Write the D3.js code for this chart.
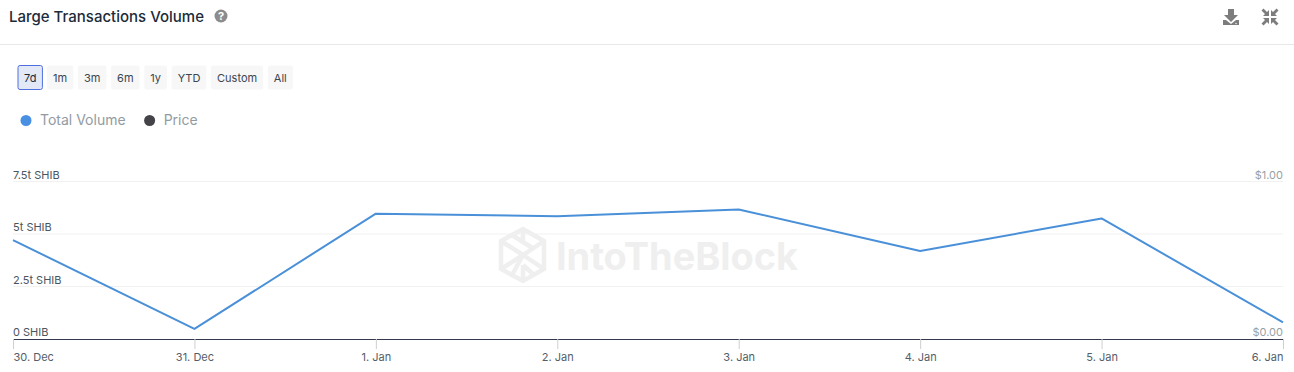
<!DOCTYPE html>
<html>
<head>
<meta charset="utf-8">
<script src="https://cdn.jsdelivr.net/npm/d3@7"></script>
<style>
    html, body { margin: 0; padding: 0; background: #fff; overflow: hidden; }
    text { font-family: Inter, "Noto Sans", sans-serif; }
</style>
</head>
<body>
<div id="chart"></div>
<script>
// data
const dates = ["30. Dec", "31. Dec", "1. Jan", "2. Jan", "3. Jan", "4. Jan", "5. Jan", "6. Jan"];
const totalVolume = [4.71, 0.48, 5.97, 5.85, 6.17, 4.19, 5.74, 0.79]; // trillions of SHIB
const volumeTicks = [0, 2.5, 5, 7.5];
const volumeLabels = ["0 SHIB", "2.5t SHIB", "5t SHIB", "7.5t SHIB"];
const priceTicks = [0, 1];
const priceLabels = ["$0.00", "$1.00"];
const ranges = ["7d", "1m", "3m", "6m", "1y", "YTD", "Custom", "All"];
const legendItems = ["Total Volume", "Price"];
const legendColors = ["#4a90e2", "#434348"];

const width = 1294, height = 372;
const margin = {top: 181.5, right: 11, bottom: 33, left: 13};

const svg = d3.select("#chart").append("svg")
    .attr("width", width)
    .attr("height", height)
    .style("display", "block");

// header
svg.append("text")
    .attr("x", 9).attr("y", 22)
    .attr("font-size", 15).attr("font-weight", 500)
    .attr("fill", "#1c2b3a")
    .text("Large Transactions Volume");

// help icon
const help = svg.append("g").attr("transform", "translate(221,16)");
help.append("circle").attr("r", 6.5).attr("fill", "#8c8c8c");
help.append("text")
    .attr("text-anchor", "middle").attr("y", 4)
    .attr("font-size", 11).attr("font-weight", 700)
    .attr("fill", "#fff")
    .text("?");

// download icon
svg.append("path")
    .attr("d", "M1228 9h6v6h4l-7 7-7-7h4z M1223 20l3 0 5 4 5-4 3 0v5h-16z")
    .attr("fill", "#7d7d7d");
svg.append("circle").attr("cx", 1236).attr("cy", 23.5).attr("r", .7).attr("fill", "#fff");

// collapse icon, one arrow mirrored into each corner
const collapse = svg.append("g").attr("transform", "translate(1270,17)");
[[1, 1], [-1, 1], [1, -1], [-1, -1]].forEach(s => {
    collapse.append("path")
        .attr("d", "M-6.5 -8.5L-8.5 -6.5L-5 -3L-7 -1H-1V-7L-3 -5Z")
        .attr("transform", `scale(${s[0]},${s[1]})`)
        .attr("fill", "#7d7d7d");
});

svg.append("line")
    .attr("x1", 0).attr("x2", width)
    .attr("y1", 44.5).attr("y2", 44.5)
    .attr("stroke", "#e8e8e8");

// range buttons
let btnX = 18;
ranges.forEach((r, i) => {
    let g = svg.append("g");
    let rect = g.append("rect");
    let label = g.append("text")
        .attr("y", 82)
        .attr("font-size", 11)
        .attr("fill", i === 0 ? "#1c2b3a" : "#3a4550")
        .text(r);
    let w = label.node().getComputedTextLength() + 12;
    label.attr("x", btnX + w / 2).attr("text-anchor", "middle");
    rect.attr("x", btnX).attr("y", 65.5)
        .attr("width", w).attr("height", 24)
        .attr("rx", 2)
        .attr("fill", i === 0 ? "#e3e8f6" : "#f7f7f7")
        .attr("stroke", i === 0 ? "#4f6fe0" : "none")
        .attr("stroke-width", 1);
    btnX += w + 4.7;
});

// legend
let legendX = 26;
legendItems.forEach((name, i) => {
    svg.append("circle")
        .attr("cx", legendX).attr("cy", 120.5).attr("r", 5.5)
        .attr("fill", legendColors[i]);
    let t = svg.append("text")
        .attr("x", legendX + 14).attr("y", 125)
        .attr("font-size", 14)
        .attr("fill", "#929ba3")
        .text(name);
    legendX += 14 + t.node().getComputedTextLength() + 24;
});

// scales
const x = d3.scalePoint()
    .domain(dates)
    .range([margin.left, width - margin.right]);

const y = d3.scaleLinear()
    .domain([0, 7.5])
    .range([height - margin.bottom, margin.top]);

const yPrice = d3.scaleLinear()
    .domain([0, 1])
    .range([height - margin.bottom, margin.top]);

// watermark
const logo = svg.append("g")
    .attr("transform", "translate(498,227)")
    .attr("fill", "none")
    .attr("stroke", "#efefef")
    .attr("stroke-width", 4.5);
logo.append("path").attr("d", "M25 2L46 14V42L25 54L3 42V14Z");
logo.append("path").attr("d", "M3 14L25 28L46 14 M25 2V16 M14 8L36 22 M3 42L25 28L46 42 M25 54V38 M14 48L25 28 M36 48L25 38");
svg.append("text")
    .attr("x", 556).attr("y", 270)
    .attr("font-size", 38).attr("font-weight", 700)
    .attr("fill", "#efefef")
    .attr("textLength", 242)
    .text("IntoTheBlock");

// grid lines
svg.append("g")
    .selectAll("line")
    .data(volumeTicks.slice(1))
    .join("line")
    .attr("x1", margin.left).attr("x2", width - margin.right)
    .attr("y1", d => y(d)).attr("y2", d => y(d))
    .attr("stroke", "#f1f1f1");

// left axis
const yAxis = d3.axisLeft(y)
    .tickValues(volumeTicks)
    .tickFormat((d, i) => volumeLabels[i])
    .tickSize(0);

svg.append("g")
    .attr("transform", `translate(${margin.left},0)`)
    .call(yAxis)
    .call(g => g.select(".domain").remove())
    .call(g => g.selectAll("text")
        .attr("x", 0).attr("dy", "-3.5")
        .attr("text-anchor", "start")
        .attr("font-size", 11)
        .attr("font-family", "Inter, sans-serif")
        .attr("fill", "#4a5560"));

// right axis
const yPriceAxis = d3.axisRight(yPrice)
    .tickValues(priceTicks)
    .tickFormat((d, i) => priceLabels[i])
    .tickSize(0);

svg.append("g")
    .attr("transform", `translate(${width - margin.right},0)`)
    .call(yPriceAxis)
    .call(g => g.select(".domain").remove())
    .call(g => g.selectAll("text")
        .attr("x", 0).attr("dy", "-3.5")
        .attr("text-anchor", "end")
        .attr("font-size", 11)
        .attr("font-family", "Inter, sans-serif")
        .attr("fill", "#979fa6"));

// bottom axis
const xAxis = d3.axisBottom(x).tickSize(10).tickPadding(4);

svg.append("g")
    .attr("transform", `translate(0,${height - margin.bottom})`)
    .call(xAxis)
    .call(g => g.select(".domain").attr("stroke", "#333a4d").attr("stroke-width", 1.2).attr("d", `M${margin.left},0.5H${width - margin.right}`))
    .call(g => g.selectAll("line").attr("stroke", "#cfcfcf"))
    .call(g => g.selectAll("text")
        .attr("font-size", 11)
        .attr("font-family", "Inter, sans-serif")
        .attr("fill", "#555e68"))
    .call(g => g.select(".tick:first-of-type text").attr("text-anchor", "start").attr("x", 0))
    .call(g => g.select(".tick:last-of-type text").attr("text-anchor", "end").attr("x", 0));

// line
const line = d3.line()
    .x((d, i) => x(dates[i]))
    .y(d => y(d));

svg.append("path")
    .datum(totalVolume)
    .attr("fill", "none")
    .attr("stroke", "#4a90d9")
    .attr("stroke-width", 2)
    .attr("stroke-linejoin", "round")
    .attr("d", line);
</script>
</body>
</html>
